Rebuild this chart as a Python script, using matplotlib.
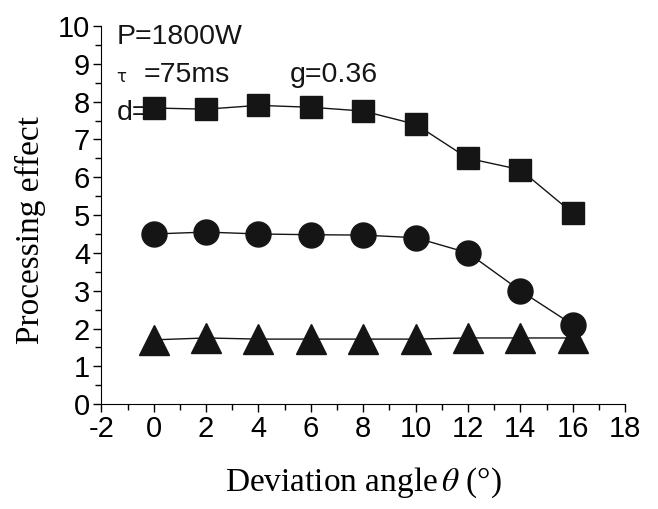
import numpy as np
import matplotlib.pyplot as plt
from matplotlib.ticker import MultipleLocator

plt.rcParams['mathtext.fontset'] = 'stix'
plt.rcParams['axes.unicode_minus'] = False

theta = [0, 2, 4, 6, 8, 10, 12, 14, 16]
square = [7.83, 7.8, 7.9, 7.85, 7.75, 7.4, 6.5, 6.2, 5.05]
circle = [4.5, 4.55, 4.5, 4.48, 4.47, 4.4, 4.0, 3.0, 2.1]
triangle = [1.7, 1.75, 1.72, 1.72, 1.72, 1.72, 1.75, 1.75, 1.75]

fig = plt.figure(figsize=(6.58, 5.09), dpi=100)
ax = fig.add_axes([0.154, 0.206, 0.796, 0.743])

c = '#151515'
ax.plot(theta, square, '-s', color=c, lw=1, ms=16, zorder=3)
ax.plot(theta, circle, '-o', color=c, lw=1, ms=18, zorder=3)
ax.plot(theta, triangle, '-^', color=c, lw=1, ms=21, zorder=3)

ax.set_xlim(-2, 18)
ax.set_ylim(0, 10)
ax.xaxis.set_major_locator(MultipleLocator(2))
ax.xaxis.set_minor_locator(MultipleLocator(1))
ax.yaxis.set_major_locator(MultipleLocator(1))
ax.yaxis.set_minor_locator(MultipleLocator(0.5))
for s in ['top', 'right']:
    ax.spines[s].set_visible(False)
ax.tick_params(which='both', direction='out', width=1)
ax.tick_params(which='major', length=6, labelsize=21, pad=2)
ax.tick_params(which='minor', length=4)
for lab in ax.get_xticklabels() + ax.get_yticklabels():
    lab.set_family('Liberation Sans')

tf = dict(family='Liberation Sans', fontsize=20.5, color=c)
ax.text(-1.42, 9.7, 'P=1800W', va='center', **tf)
ax.text(-1.42, 8.66, 'τ', va='center', family='DejaVu Sans', fontsize=12, color=c)
ax.text(-0.4, 8.7, '=75ms', va='center', **tf)
ax.text(5.2, 8.7, 'g=0.36', va='center', **tf)
ax.text(-1.42, 7.7, 'd=0', va='center', zorder=1, **tf)

ax.set_xlabel(r'Deviation angle$\,\theta$ (°)', family='Liberation Serif', fontsize=24, labelpad=16)
ax.set_ylabel('Processing effect', family='Liberation Serif', fontsize=24)
ax.yaxis.set_label_coords(-0.105, 0.46)

fig.savefig('out.png', dpi=100)
